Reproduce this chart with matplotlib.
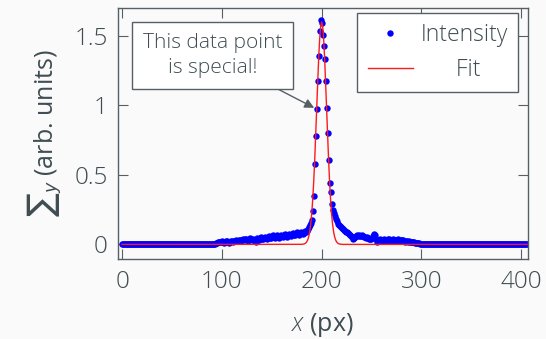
import numpy as np
import matplotlib
matplotlib.use("Agg")
import matplotlib.pyplot as plt

# .----------------------------------------------------------------------------.
# Data.

n_points = 407            # samples at x = 0 .. 406 px
signal_start = 93         # first sample that is not on the zero baseline

# Measured intensity for x = 93 .. 305 (zero everywhere else)
intensity_signal = [
    0.006, 0.012, 0.010, 0.018, 0.014, 0.020, 0.016, 0.022, 0.019, 0.013,   # 93-102
    0.017, 0.024, 0.021, 0.015, 0.011, 0.020, 0.026, 0.023, 0.018, 0.028,   # 103-112
    0.025, 0.031, 0.022, 0.027, 0.035, 0.030, 0.024, 0.033, 0.038, 0.029,   # 113-122
    0.036, 0.041, 0.034, 0.027, 0.039, 0.044, 0.037, 0.031, 0.042, 0.035,   # 123-132
    0.028, 0.018, 0.046, 0.038, 0.033, 0.045, 0.051, 0.042, 0.036, 0.048,   # 133-142
    0.055, 0.047, 0.040, 0.052, 0.060, 0.049, 0.043, 0.057, 0.064, 0.053,   # 143-152
    0.046, 0.058, 0.066, 0.055, 0.049, 0.062, 0.071, 0.059, 0.052, 0.065,   # 153-162
    0.074, 0.063, 0.056, 0.069, 0.078, 0.067, 0.060, 0.073, 0.082, 0.070,   # 163-172
    0.064, 0.077, 0.086, 0.074, 0.068, 0.081, 0.090, 0.079, 0.072, 0.085,   # 173-182
    0.094, 0.088, 0.098, 0.108, 0.122, 0.140, 0.155,                        # 183-189
    0.178, 0.237, 0.350, 0.578, 0.782, 0.973, 1.173, 1.358, 1.535, 1.612,   # 190-199
    1.595, 1.509, 1.427, 1.331, 1.175, 0.981, 0.801, 0.604, 0.441, 0.374,   # 200-209
    0.293, 0.250, 0.228, 0.205, 0.180, 0.168, 0.150, 0.142, 0.130, 0.125,   # 210-219
    0.118, 0.112, 0.104, 0.098, 0.092, 0.086, 0.080, 0.072, 0.065, 0.058,   # 220-229
    0.050, 0.042, 0.048, 0.056, 0.062, 0.066, 0.060, 0.064, 0.058, 0.062,   # 230-239
    0.066, 0.060, 0.055, 0.050, 0.046, 0.052, 0.044, 0.038, 0.042, 0.036,   # 240-249
    0.048, 0.062, 0.072, 0.066, 0.040, 0.018, 0.024, 0.032, 0.038, 0.030,   # 250-259
    0.026, 0.032, 0.036, 0.028, 0.022, 0.030, 0.036, 0.040, 0.034, 0.028,   # 260-269
    0.024, 0.030, 0.036, 0.032, 0.026, 0.030, 0.034, 0.038, 0.032, 0.026,   # 270-279
    0.030, 0.034, 0.030, 0.024, 0.020, 0.026, 0.022, 0.018, 0.024, 0.020,   # 280-289
    0.016, 0.018, 0.014, 0.016, 0.012, 0.013, 0.010, 0.008, 0.009, 0.006,   # 290-299
    0.005, 0.004, 0.003, 0.002, 0.001, 0.000,                               # 300-305
]

# Gaussian fit curve sampled at x = 180 .. 220 (zero everywhere else)
fit_start = 180
fit_core = [
    0.0005, 0.0012, 0.0025, 0.0049, 0.0096, 0.0178, 0.0318, 0.0545, 0.0898, 0.142,
    0.217, 0.317, 0.445, 0.600, 0.779, 0.970, 1.162, 1.336, 1.477, 1.568,
    1.600,
    1.568, 1.477, 1.336, 1.162, 0.970, 0.779, 0.600, 0.445, 0.317, 0.217,
    0.142, 0.0898, 0.0545, 0.0318, 0.0178, 0.0096, 0.0049, 0.0025, 0.0012, 0.0005,
]

special_x = 195                   # the annotated data point
x_ticks = [0, 100, 200, 300, 400]
y_ticks = [0, 0.5, 1, 1.5]
y_tick_labels = ["0", "0.5", "1", "1.5"]

# .----------------------------------------------------------------------------.

def main():
    x_px = np.arange(n_points)

    intensity = np.zeros(n_points)
    intensity[signal_start:signal_start + len(intensity_signal)] = intensity_signal

    fit = np.zeros(n_points)
    fit[fit_start:fit_start + len(fit_core)] = fit_core

    text_color = "#3f4d52"
    frame_color = "#566064"
    bg = "#fafafa"

    plt.rcParams["font.family"] = ["Open Sans", "DejaVu Sans"]
    plt.rcParams["font.weight"] = "light"
    plt.rcParams["mathtext.fontset"] = "custom"
    plt.rcParams["mathtext.rm"] = "Open Sans:light"
    plt.rcParams["mathtext.it"] = "Open Sans:italic:light"
    plt.rcParams["text.color"] = text_color

    fig = plt.figure(figsize=(5.46, 3.39), dpi=100, facecolor=bg)
    ax = fig.add_axes([0.2156, 0.236, 0.7514, 0.7404], facecolor=bg)

    ax.plot(x_px, intensity, linestyle="none", marker="o", ms=4.6,
            mew=0, color="#0000ff", label="Intensity")
    ax.plot(x_px, fit, color="#ff1a1a", lw=1.0, label="      Fit")

    ax.set_xlim(-4.4, 406.8)
    ax.set_ylim(-0.105, 1.70)
    ax.set_xticks(x_ticks)
    ax.set_yticks(y_ticks)
    ax.set_yticklabels(y_tick_labels)

    ax.tick_params(direction="in", length=7, width=0.8, color=frame_color,
                   labelcolor=text_color, labelsize=17.5, top=True, right=True)
    ax.tick_params(axis="x", pad=8)
    ax.tick_params(axis="y", pad=7)
    for s in ax.spines.values():
        s.set_color(frame_color)
        s.set_linewidth(1.0)

    ax.set_xlabel("$x$ (px)", fontsize=18, color=text_color, labelpad=12)
    ax.set_ylabel(r"${\sum}_y$ (arb. units)", fontsize=18, color=text_color,
                  labelpad=8, math_fontfamily="dejavusans")

    # Annotation box pointing at one data point
    ax.annotate("This data point\nis special!",
                xy=(special_x, intensity[special_x]), xytext=(90.5, 1.36),
                ha="center", va="center", fontsize=15, color=text_color,
                linespacing=1.35,
                bbox=dict(boxstyle="square,pad=0.52", fc="white",
                          ec=frame_color, lw=1.0),
                arrowprops=dict(arrowstyle="-|>", color=frame_color, lw=1.0,
                                shrinkA=0, shrinkB=2, mutation_scale=14))

    leg = ax.legend(loc="upper right", bbox_to_anchor=(0.9756, 0.980),
                    borderaxespad=0, fontsize=16.5, fancybox=False,
                    framealpha=1, edgecolor=frame_color, facecolor="white",
                    labelspacing=0.45, handlelength=2.0, handletextpad=0.3,
                    borderpad=0.45)
    leg.get_frame().set_linewidth(1.0)
    for t in leg.get_texts():
        t.set_color(text_color)

    fig.savefig("out.png", dpi=100, facecolor=bg)

# .----------------------------------------------------------------------------.

if __name__ == '__main__':
    main()
